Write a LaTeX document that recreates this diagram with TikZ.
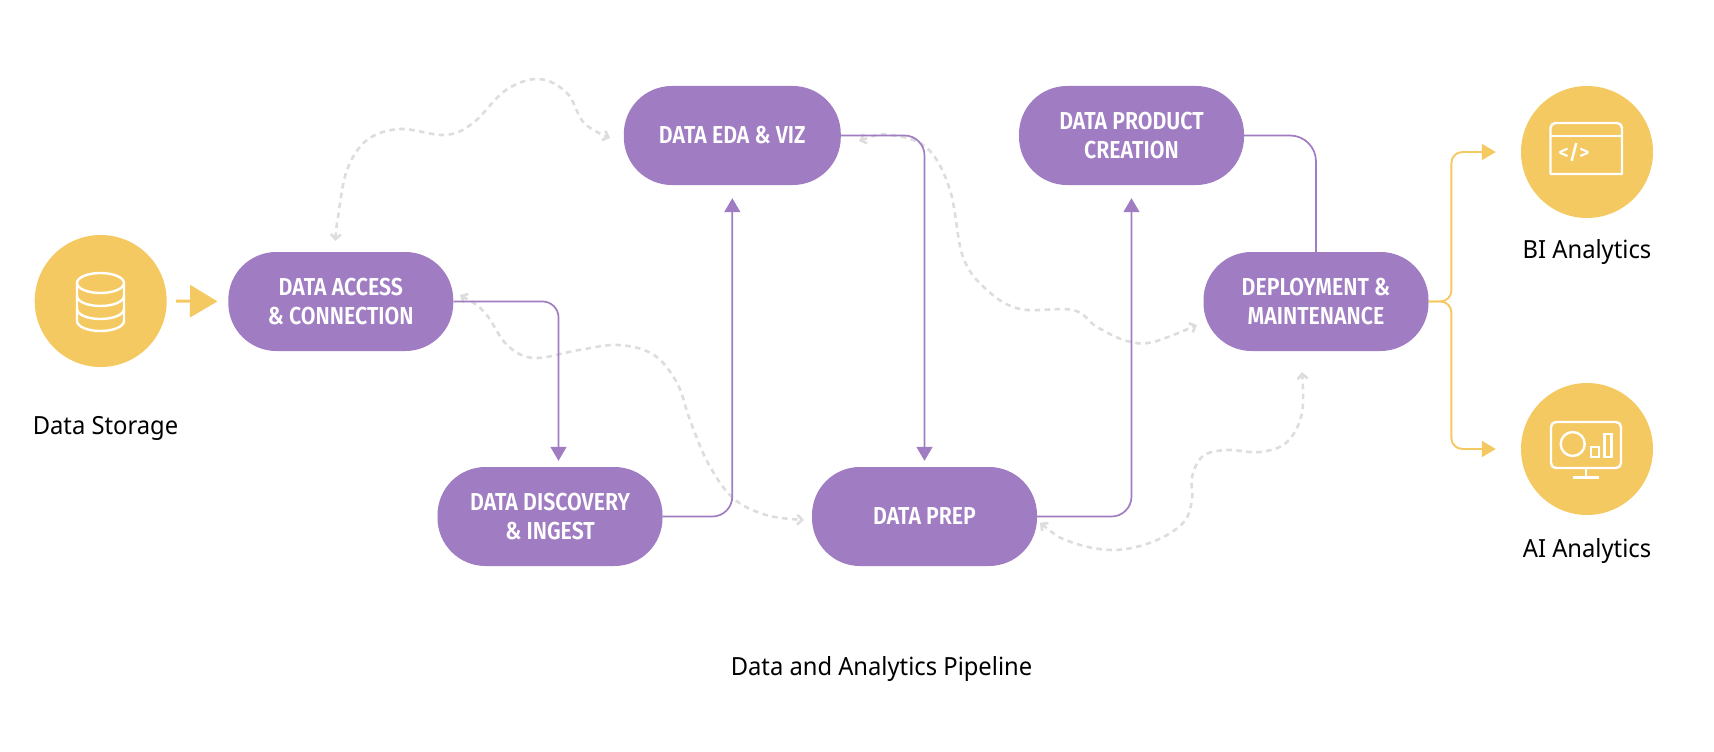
\documentclass[tikz,border=0pt]{standalone}
\usepackage{fontspec}
\usetikzlibrary{arrows.meta}
\setmainfont[FakeStretch=0.95]{Noto Sans}
\newfontfamily\pillfont[FakeStretch=0.87]{Fira Sans SemiBold}
\newfontfamily\codefont{Fira Sans SemiBold}
\definecolor{pipepurple}{HTML}{A07CC2}
\definecolor{pipeyellow}{HTML}{F5C961}
\definecolor{pipegrey}{HTML}{DDDDDD}
\newcommand\twolines[2]{\begin{tabular}{@{}c@{}}\rule{0pt}{25pt}#1\\#2\end{tabular}}
\tikzset{
  x=1pt,y=-1pt,
  pill/.style={fill=pipepurple,rounded corners=48pt,minimum width=225pt,minimum height=99pt,inner sep=0pt,
    text=white,font=\pillfont\fontsize{24.5}{29}\selectfont},
  disc/.style={circle,fill=pipeyellow,minimum size=132pt,inner sep=0pt},
  lab/.style={font=\fontsize{25}{30}\selectfont,text=black,inner sep=0pt},
  flow/.style={pipepurple,line width=1.7pt,rounded corners=20pt},
  flowtip/.style={-{Triangle[length=14pt,width=16pt]}},
  outflow/.style={pipeyellow,line width=1.9pt,rounded corners=11pt,-{Triangle[length=14pt,width=16pt]},shorten >=25pt},
  loopback/.style={pipegrey,line width=2.6pt,dash pattern=on 5.5pt off 4.5pt,{Straight Barb[length=5pt,width=10pt]}-{Straight Barb[length=5pt,width=10pt]}},
  icon/.style={white,line width=2.4pt},
}
\begin{document}
\begin{tikzpicture}
\useasboundingbox (0,0) rectangle (1714,752);

\node[disc] (storage) at (100.7,301) {};
\node[disc] (bi) at (1587,152) {};
\node[disc] (ai) at (1587,449) {};

\node[pill] (access) at (340.8,301.5) {\twolines{DATA ACCESS}{\& CONNECTION}};
\node[pill,minimum width=217pt,text height=15pt,text depth=-3.5pt] (eda) at (732.3,135.5) {DATA EDA \& VIZ};
\node[pill] (product) at (1131.5,135.5) {\twolines{DATA PRODUCT}{CREATION}};
\node[pill] (deploy) at (1316,301.5) {\twolines{DEPLOYMENT \&}{MAINTENANCE}};
\node[pill] (discovery) at (550,516.5) {\twolines{DATA DISCOVERY}{\& INGEST}};
\node[pill,text height=15pt,text depth=-3.5pt] (prep) at (924.5,516.5) {DATA PREP};

\node[lab] (storagelabel) at (105.5,428) {Data Storage};
\node[lab] (bilabel) at (1587,252) {BI Analytics};
\node[lab] (ailabel) at (1587,551) {AI Analytics};
\node[lab] (title) at (881.5,669) {Data and Analytics Pipeline};

% dashed loops
\coordinate (l1a) at (335.5,241);
\coordinate (l1b) at (610,138);
\draw[loopback] plot[smooth,tension=0.6] coordinates {(l1a) (338,217) (347,170) (367,140) (400,129) (445,135) (473,123) (506,90) (539,79) (567,93) (584,123) (l1b)};
\coordinate (l2a) at (460,295);
\coordinate (l2b) at (804,520);
\draw[loopback] plot[smooth,tension=0.6] coordinates {(l2a) (485,313) (507,345) (534,358) (579,350) (619,345) (654,355) (677,383) (690,420) (708,463) (733,498) (766,515) (l2b)};
\coordinate (l3a) at (859,141);
\coordinate (l3b) at (1197,325);
\draw[loopback] plot[smooth,tension=0.6] coordinates {(l3a) (890,135) (927,148) (950,190) (963,257) (987,290) (1020,309) (1073,310) (1097,327) (1127,341) (1153,342) (l3b)};
\coordinate (l4a) at (1040,522.7);
\coordinate (l4b) at (1302,372);
\draw[loopback] plot[smooth,tension=0.6] coordinates {(l4a) (1070,541.7) (1113,550) (1153,541.7) (1183,523) (1192,500) (1192,477) (1203,456) (1227,450) (1260,452) (1287,442) (1302,413) (l4b)};

% purple flows
\draw[flow,flowtip,shorten >=6pt,rounded corners=16pt] (access.east) -| ([xshift=8.5pt]discovery.north);
\draw[flow,flowtip,shorten >=13pt] (discovery.east) -| (eda.south);
\draw[flow,flowtip,shorten >=6pt] (eda.east) -| (prep.north);
\draw[flow,flowtip,shorten >=13pt] (prep.east) -| (product.south);
\draw[flow,rounded corners=26pt] (product.east) -| (deploy.north);

% yellow flows
\draw[pipeyellow,line width=3pt,-{Triangle[length=27.5pt,width=32pt]},shorten <=9.3pt,shorten >=10.6pt] (storage.east) -- (access.west);
\draw[outflow] (deploy.east) -- ++(22.7,0) |- (bi.west);
\draw[outflow] (deploy.east) -- ++(22.7,0) |- (ai.west);

% database icon
\draw[icon] (100.5,283) ellipse [x radius=23.5,y radius=10];
\draw[icon] (77,283) -- (77,321) arc[start angle=180,end angle=0,x radius=23.5,y radius=10] -- (124,283);
\draw[icon] (77,296) arc[start angle=180,end angle=0,x radius=23.5,y radius=10];
\draw[icon] (77,309) arc[start angle=180,end angle=0,x radius=23.5,y radius=10];

% BI icon
\draw[icon,line join=round] (1550.5,174) [rounded corners=5pt] -- (1550.5,123) -- (1622,123) [sharp corners] -- (1622,174) -- cycle;
\draw[icon] (1550.5,135.7) -- (1622,135.7);
\node[text=white,inner sep=0pt,font=\codefont\fontsize{20}{20}\selectfont] (code) at (1574,152) {</>};

% AI icon
\draw[icon,rounded corners=5pt] (1551,422) rectangle (1621,468);
\draw[icon] (1572.7,444) circle [radius=12];
\draw[icon] (1591,447) rectangle (1599,457);
\draw[icon] (1604.5,434) rectangle (1611.5,457);
\draw[icon] (1586,468) -- (1586,477.3);
\draw[icon] (1573,477.3) -- (1599,477.3);
\end{tikzpicture}
\end{document}
